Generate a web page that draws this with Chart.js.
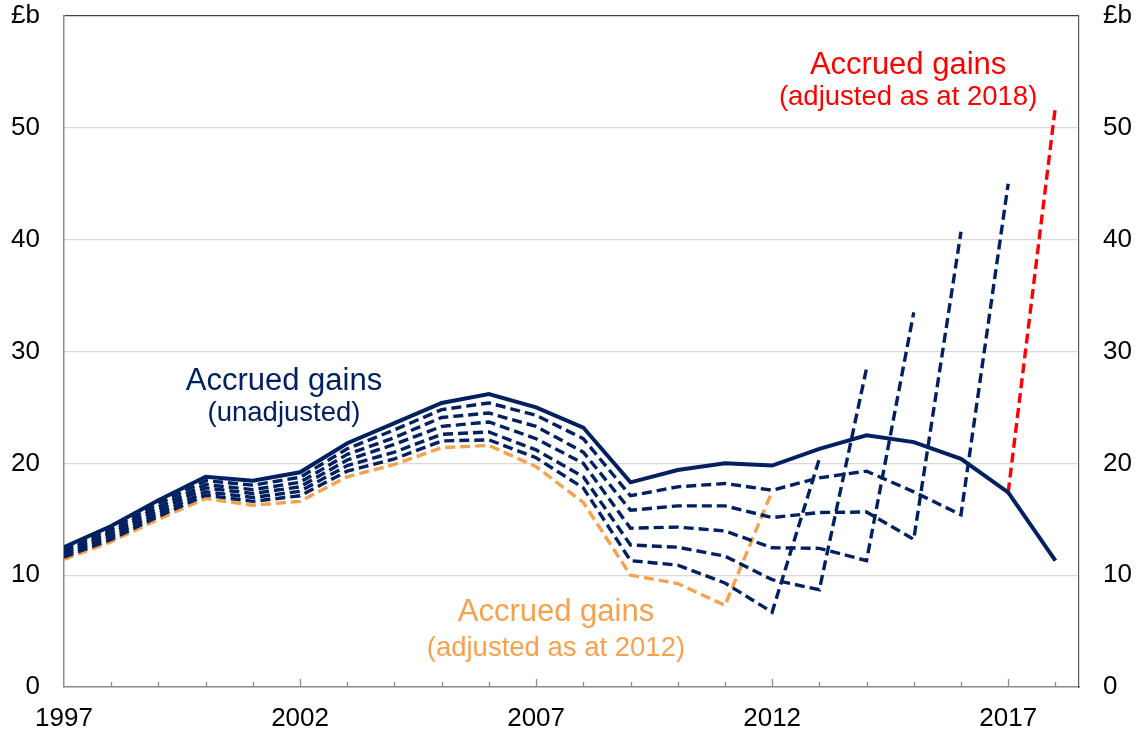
<!DOCTYPE html>
<html>
<head>
<meta charset="utf-8">
<script src="https://cdn.jsdelivr.net/npm/chart.js@4.4.1/dist/chart.umd.min.js"></script>
<style>
  html, body { margin: 0; padding: 0; background: #fff; }
  #wrap { width: 1141px; height: 734px; }
</style>
</head>
<body>
<div id="wrap"><canvas id="chart"></canvas></div>
<script>
var years = [1997, 1998, 1999, 2000, 2001, 2002, 2003, 2004, 2005, 2006, 2007,
             2008, 2009, 2010, 2011, 2012, 2013, 2014, 2015, 2016, 2017, 2018];

var unadjusted = [12.5, 14.4, 16.7, 18.8, 18.45, 19.2, 21.8, 23.6, 25.4, 26.2, 25.0,
                  23.2, 18.3, 19.4, 20.0, 19.8, 21.3, 22.5, 21.9, 20.4, 17.4, 11.3];
var adj2017 = [12.3, 14.15, 16.4, 18.45, 18.05, 18.75, 21.3, 23.0, 24.8, 25.4, 24.3,
               22.2, 17.1, 17.9, 18.2, 17.6, 18.7, 19.3, 17.45, 15.4, 45.0, null];
var adj2016 = [12.1, 13.9, 16.1, 18.1, 17.65, 18.3, 20.8, 22.3, 24.1, 24.5, 23.3,
               21.0, 15.8, 16.2, 16.2, 15.15, 15.6, 15.65, 13.2, 40.7, null, null];
var adj2015 = [11.95, 13.7, 15.8, 17.8, 17.3, 17.9, 20.3, 21.7, 23.3, 23.7, 22.2,
               20.0, 14.2, 14.3, 13.95, 12.45, 12.4, 11.3, 33.5, null, null, null];
var adj2014 = [11.8, 13.45, 15.5, 17.45, 16.95, 17.5, 19.8, 21.0, 22.6, 22.8, 21.2,
               18.8, 12.7, 12.5, 11.7, 9.6, 8.7, 28.5, null, null, null, null];
var adj2013 = [11.6, 13.2, 15.25, 17.15, 16.6, 17.1, 19.3, 20.4, 22.0, 22.1, 20.5,
               17.8, 11.3, 10.9, 9.3, 6.7, 20.4, null, null, null, null, null];
var adj2012 = [11.4, 13.0, 15.0, 16.85, 16.25, 16.6, 18.8, 19.9, 21.4, 21.6, 19.7,
               16.5, 10.0, 9.25, 7.3, 17.5, null, null, null, null, null, null];
var adj2018 = [null, null, null, null, null, null, null, null, null, null, null,
               null, null, null, null, null, null, null, null, null, 17.4, 51.9];

var yTicks = [0, 10, 20, 30, 40, 50, 60];
var xLabelYears = [1997, 2002, 2007, 2012, 2017];

var navy = '#002060';
var orange = '#f7a14d';
var red = '#ff0000';

function pts(vals) {
    return years.map(function (y, i) { return { x: y, y: vals[i] }; });
}

function dashed(vals, color) {
    return {
        data: pts(vals),
        borderColor: color,
        borderWidth: 3.4,
        borderDash: [10, 5],
        pointRadius: 0,
        spanGaps: false,
        tension: 0
    };
}

var notes = [
    { text: 'Accrued gains', x: 2001.66, y: 27.35, size: 31, color: navy },
    { text: '(unadjusted)', x: 2001.66, y: 24.5, size: 27.5, color: navy },
    { text: 'Accrued gains', x: 2007.42, y: 6.7, size: 31, color: orange },
    { text: '(adjusted as at 2012)', x: 2007.42, y: 3.45, size: 27.5, color: orange },
    { text: 'Accrued gains', x: 2014.88, y: 55.6, size: 31, color: red },
    { text: '(adjusted as at 2018)', x: 2014.88, y: 52.75, size: 27.5, color: red }
];

var decorations = {
    id: 'decorations',
    afterDatasetsDraw: function (chart) {
        var ctx = chart.ctx;
        var xs = chart.scales.x, ys = chart.scales.y;
        var base = chart.chartArea.bottom;
        ctx.save();
        // inward tick marks on the year axis
        ctx.strokeStyle = '#8c8c8c';
        ctx.lineWidth = 1.3;
        years.forEach(function (yr) {
            if (yr === years[0]) return;
            var px = Math.round(xs.getPixelForValue(yr)) + 0.5;
            var len = xLabelYears.indexOf(yr) >= 0 ? 8 : 5;
            ctx.beginPath();
            ctx.moveTo(px, base);
            ctx.lineTo(px, base - len);
            ctx.stroke();
        });
        // text labels
        ctx.textAlign = 'center';
        ctx.textBaseline = 'middle';
        notes.forEach(function (n) {
            ctx.font = n.size + 'px "Liberation Sans", Arial, sans-serif';
            ctx.fillStyle = n.color;
            ctx.fillText(n.text, xs.getPixelForValue(n.x), ys.getPixelForValue(n.y));
        });
        ctx.restore();
    }
};

var tickFont = { family: '"Liberation Sans", Arial, sans-serif', size: 26 };

function yLabel(v) { return v === 60 ? '£b' : v; }

function fitY(w) {
    return function (s) { s.width = w; s.paddingTop = 0; s.paddingBottom = 0; };
}

new Chart(document.getElementById('chart').getContext('2d'), {
    type: 'line',
    data: {
        datasets: [
            dashed(adj2013, navy),
            dashed(adj2014, navy),
            dashed(adj2015, navy),
            dashed(adj2016, navy),
            dashed(adj2017, navy),
            dashed(adj2012, orange),
            {
                data: pts(unadjusted),
                borderColor: navy,
                borderWidth: 4,
                pointRadius: 0,
                tension: 0
            },
            dashed(adj2018, red)
        ]
    },
    options: {
        responsive: true,
        maintainAspectRatio: false,
        animation: false,
        layout: { padding: { top: 16, left: 0, right: 0, bottom: 0 } },
        plugins: { legend: { display: false }, tooltip: { enabled: false } },
        scales: {
            x: {
                type: 'linear',
                min: 1997,
                max: 2018.5,
                afterFit: function (s) { s.height = 47; s.paddingLeft = 0; s.paddingRight = 0; },
                grid: { display: false },
                border: { color: '#8c8c8c', width: 1.5 },
                ticks: {
                    stepSize: 1,
                    autoSkip: false,
                    maxRotation: 0,
                    padding: 8,
                    color: '#000',
                    font: tickFont,
                    callback: function (v) { return xLabelYears.indexOf(v) >= 0 ? String(v) : ''; }
                }
            },
            y: {
                position: 'left',
                min: 0,
                max: 60,
                afterFit: fitY(64),
                afterBuildTicks: function (s) { s.ticks = yTicks.map(function (v) { return { value: v }; }); },
                grid: {
                    drawTicks: false,
                    color: function (c) { return c.tick && c.tick.value === 60 ? '#404040' : '#d9d9d9'; },
                    lineWidth: 1.2
                },
                border: { color: '#8c8c8c', width: 1.5 },
                ticks: { padding: 24, color: '#000', font: tickFont, callback: yLabel }
            },
            y2: {
                position: 'right',
                min: 0,
                max: 60,
                afterFit: fitY(62),
                afterBuildTicks: function (s) { s.ticks = yTicks.map(function (v) { return { value: v }; }); },
                grid: { drawOnChartArea: false, drawTicks: false },
                border: { color: '#595959', width: 1.2 },
                ticks: { padding: 24, color: '#000', font: tickFont, callback: yLabel }
            }
        }
    },
    plugins: [decorations]
});
</script>
</body>
</html>
